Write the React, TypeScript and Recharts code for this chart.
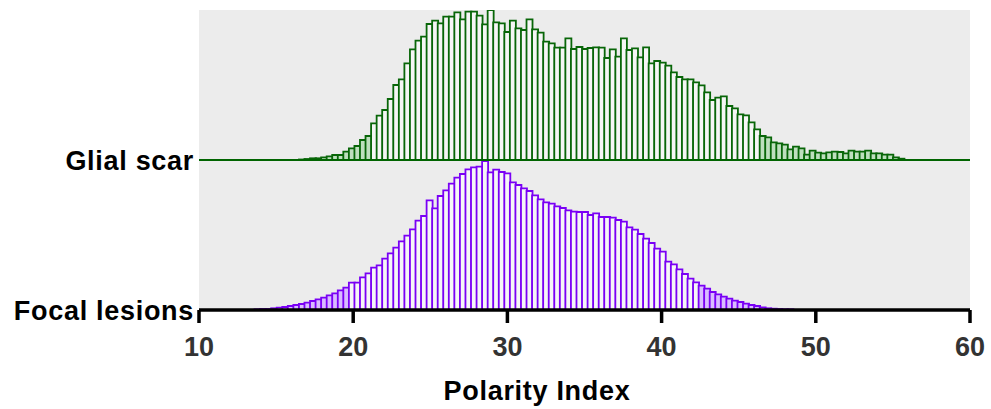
import React from "react";
import { ComposedChart, Bar, Cell, XAxis, YAxis, CartesianGrid, ReferenceLine } from "recharts";

// Histogram bins of Polarity Index
const BIN_START = 10;
const BIN_WIDTH = 0.36;

// Glial scar: counts (relative units) starting at bin index 18
const glialFirstBin = 18;
const glialCounts = [
  0.5, 1, 1.7, 1.7, 2.7, 3.7, 5, 5, 8.3, 11.7, 14, 20, 24, 36.7, 44.3, 50, 61, 75, 80.7, 96.7,
  110.7, 119.3, 123.3, 136, 139.3, 136.7, 143.3, 143.3, 147.7, 140.7, 148.3, 148.3, 144.3, 135.7, 150, 137.7, 136.7, 128, 139.3, 131.7,
  130, 140.7, 130.7, 127.3, 118.3, 116.7, 112.3, 112.3, 121.7, 111, 113, 111, 112, 112.7, 112.3, 102, 110.7, 103.3, 121.7, 110,
  111.7, 102.7, 112.7, 96.7, 99, 97.3, 94.3, 87.7, 83, 80.7, 80.7, 77.7, 74.7, 67.7, 60, 62.3, 63.7, 54, 51.7, 45.7,
  44.7, 37.7, 30.7, 24, 22.7, 17.7, 16.7, 15.3, 10.7, 13.3, 11.7, 5.3, 9.3, 7.3, 6.7, 7.7, 8.3, 8, 6.7, 9.3,
  8.3, 8.3, 9.3, 6.7, 6.7, 5.3, 5.3, 2.7, 1.3,
];

// Focal lesions: counts (relative units) starting at bin index 10
const focalFirstBin = 10;
const focalCounts = [
  0.7, 1, 1, 1.7, 2.3, 3, 4, 5, 6, 7.3, 9, 10.7, 12.3, 14.7, 16.7, 19.7, 22.3, 27.3, 27.3, 32.7,
  36.7, 42.3, 44.7, 51.3, 56.7, 62.3, 68.7, 74.3, 80.7, 89.3, 94, 109.7, 101.7, 114, 119.7, 126.3, 132.3, 136, 140.7, 142.7,
  143.3, 149, 137.7, 140.3, 138, 136.7, 127.7, 125, 121.7, 119, 114.7, 110.7, 107.7, 106.3, 103.7, 102, 99.7, 98.3, 98, 98,
  95, 96.7, 93, 93, 92.3, 90, 88.3, 82.7, 80.3, 76, 71.3, 67, 61.3, 58.3, 48.3, 45.7, 40.7, 36, 31.3, 27.7,
  24.3, 21.3, 18, 15.7, 13.3, 11.3, 9.3, 8, 6.3, 5, 4, 2.7, 1.7, 1.3, 1, 0.7, 0.7,
];

const xTicks = [10, 20, 30, 40, 50, 60];
const rowLabels = ["Focal lesions", "Glial scar"];
const rowTickValues = [0, 150];

const firstBin = Math.min(glialFirstBin, focalFirstBin);
const lastBin = Math.max(glialFirstBin + glialCounts.length, focalFirstBin + focalCounts.length);
const rows: { x: number; glial: number | null; focal: number | null }[] = [];
for (let k = firstBin; k < lastBin; k++) {
  const gi = k - glialFirstBin;
  const fi = k - focalFirstBin;
  rows.push({
    x: +(BIN_START + BIN_WIDTH * (k + 0.5)).toFixed(3),
    glial: gi >= 0 && gi < glialCounts.length ? glialCounts[gi] : null,
    focal: fi >= 0 && fi < focalCounts.length ? focalCounts[fi] : null,
  });
}

const FONT = "'Liberation Sans', Arial, Helvetica, sans-serif";
const LOW = 26;

export default function App() {
  return (
    <div style={{ position: "absolute", left: 0, top: 0, width: 991, height: 409, background: "#fff" }}>
      <ComposedChart
        width={991}
        height={409}
        data={rows}
        margin={{ top: 10, right: 21, bottom: 0, left: 0 }}
        barCategoryGap={0}
        barGap={0}
      >
        <CartesianGrid xAxisId="p" yAxisId="p" fill="#ececec" horizontal={false} vertical={false} stroke="none" />
        <XAxis xAxisId="g" type="number" dataKey="x" domain={[10, 60]} allowDataOverflow hide height={0} />
        <XAxis
          xAxisId="p"
          type="number"
          dataKey="x"
          domain={[10, 60]}
          allowDataOverflow
          ticks={xTicks}
          interval={0}
          height={99}
          axisLine={{ stroke: "#000", strokeWidth: 3.5 }}
          tickLine={{ stroke: "#000", strokeWidth: 3.5 }}
          tickSize={13}
          tickMargin={14}
          tick={{ fill: "#333", fontSize: 27, fontWeight: 700, fontFamily: FONT }}
          label={{
            value: "Polarity Index",
            position: "insideBottom",
            offset: 9,
            dx: -47.5,
            fill: "#000",
            fontSize: 27,
            fontWeight: 700,
            fontFamily: FONT,
            letterSpacing: 0.7,
          }}
        />
        <YAxis yAxisId="g" domain={[-150, 150]} allowDataOverflow hide width={0} />
        <YAxis
          yAxisId="p"
          domain={[0, 300]}
          allowDataOverflow
          width={199}
          ticks={rowTickValues}
          interval={0}
          axisLine={false}
          tickLine={false}
          tickSize={0}
          tickMargin={5}
          tickFormatter={(v: number) => rowLabels[rowTickValues.indexOf(v)] ?? ""}
          tick={{ fill: "#000", fontSize: 27, fontWeight: 700, fontFamily: FONT, letterSpacing: 0.7 }}
        />
        <Bar
          xAxisId="g"
          yAxisId="g"
          dataKey="glial"
          stroke="#086608"
          strokeWidth={1.8}
          isAnimationActive={false}
        >
          {rows.map((r, i) => (
            <Cell key={i} fill={r.glial != null && r.glial < LOW ? "#bedfbe" : "#f6f6f6"} />
          ))}
        </Bar>
        <ReferenceLine xAxisId="g" yAxisId="g" y={0} stroke="#006400" strokeWidth={2} />
        <Bar
          xAxisId="p"
          yAxisId="p"
          dataKey="focal"
          stroke="#7a00f5"
          strokeWidth={1.8}
          isAnimationActive={false}
        >
          {rows.map((r, i) => (
            <Cell key={i} fill={r.focal != null && r.focal < LOW ? "#d9bcff" : "#f6f6f6"} />
          ))}
        </Bar>
      </ComposedChart>
    </div>
  );
}
